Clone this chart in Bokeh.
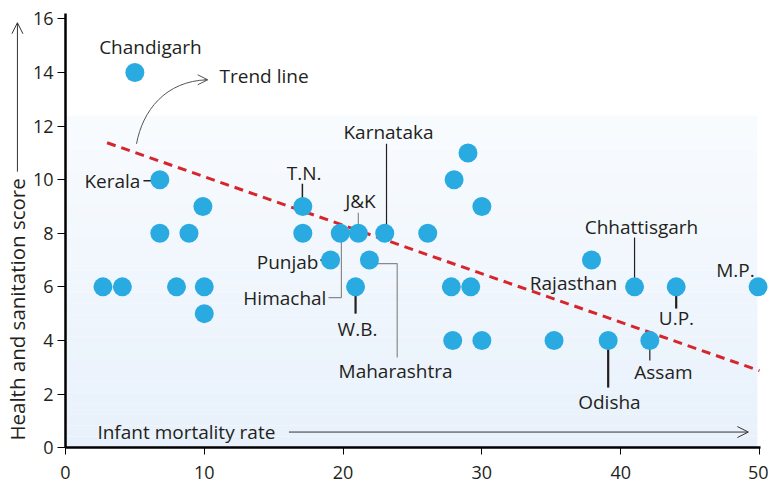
import math
from bokeh.plotting import figure
from bokeh.models import Arrow, OpenHead, FixedTicker, ColumnDataSource
from bokeh.core.properties import value
from bokeh.embed import file_html
from bokeh.resources import INLINE

FONT = "Open Sans"
TXT = "#231f20"
FS = "19px"

# ---- data ----
labelled_names = ["Chandigarh", "Kerala", "T.N.", "Himachal", "J&K", "Karnataka", "Punjab",
                  "Maharashtra", "W.B.", "Rajasthan", "Chhattisgarh", "U.P.", "M.P.", "Odisha", "Assam"]
labelled_imr = [5, 6.8, 17.1, 19.8, 21.1, 23.0, 19.1, 21.9, 20.9, 37.9, 41.0, 44.0, 49.9, 39.1, 42.1]
labelled_score = [14, 10, 9, 8, 8, 8, 7, 7, 6, 7, 6, 6, 6, 4, 4]

other_imr = [2.7, 4.1, 6.8, 8.9, 8.0, 9.9, 10.0, 10.0, 17.1, 26.1, 28.0, 29.0, 30.0, 27.8, 29.2, 27.9, 30.0, 35.2]
other_score = [6, 6, 8, 8, 6, 9, 6, 5, 8, 8, 10, 11, 9, 6, 6, 4, 4, 4]

trend_imr = [3.0, 50.0]
trend_score = [11.38, 2.87]

x_ticks = [0, 10, 20, 30, 40, 50]
y_ticks = [0, 2, 4, 6, 8, 10, 12, 14, 16]

# ---- figure (frame covers the whole canvas; axes are pinned at 0) ----
p = figure(width=768, height=487, x_range=(-4.68, 50.65), y_range=(-1.49, 16.69),
           output_backend="svg", toolbar_location=None,
           min_border_left=0, min_border_right=0, min_border_top=0, min_border_bottom=0)
p.outline_line_color = None
p.grid.visible = False
p.background_fill_color = "white"
p.border_fill_color = "white"

# background gradient panel
n = 30
top = 12.4
bot_c = (232, 241, 251)
top_c = (248, 251, 254)
for i in range(n):
    t = i / (n - 1)
    c = tuple(int(round(bot_c[k] + (top_c[k] - bot_c[k]) * t)) for k in range(3))
    p.quad(left=0, right=49.85, bottom=top * i / n, top=top * (i + 1) / n,
           fill_color="#%02x%02x%02x" % c, line_color=None)

# axes styling
for ax in (p.xaxis[0], p.yaxis[0]):
    ax.fixed_location = 0
    ax.axis_line_color = "black"
    ax.axis_line_width = 2.5
    ax.major_tick_line_color = "black"
    ax.major_tick_line_width = 1
    ax.major_tick_in = 0
    ax.minor_tick_line_color = None
    ax.major_label_text_font = FONT
    ax.major_label_text_font_size = "18px"
    ax.major_label_text_color = TXT
p.xaxis.bounds = (0, 50.1)
p.yaxis.bounds = (0, 16.2)
p.xaxis.ticker = FixedTicker(ticks=x_ticks)
p.yaxis.ticker = FixedTicker(ticks=y_ticks)
p.xaxis.major_tick_out = 7
p.yaxis.major_tick_out = 8
p.xaxis.major_label_standoff = 11
p.yaxis.major_label_standoff = 4

# y axis title (placed low, with arrow above it)
p.text(x=[-3.46], y=[0.26], text=["Health and sanitation score"], angle=math.pi / 2,
       text_align="left", text_baseline="middle", text_font=value(FONT),
       text_font_size="20.5px", text_color=TXT)
p.add_layout(Arrow(end=OpenHead(size=11, line_width=1, line_color="#333333"),
                   x_start=-3.46, y_start=10.3, x_end=-3.46, y_end=15.86,
                   line_color="#333333", line_width=1))

# leader lines (beneath dots)
dark = "#231f20"
grey = "#8a8a8a"
p.segment(x0=[5.62], y0=[9.96], x1=[6.3], y1=[9.96], line_color=dark, line_width=1.5)      # Kerala
p.segment(x0=[17.07], y0=[9.85], x1=[17.07], y1=[9.0], line_color=dark, line_width=1.5)   # T.N.
p.segment(x0=[21.1], y0=[8.77], x1=[21.1], y1=[8.0], line_color=grey, line_width=1.2)     # J&K
p.segment(x0=[23.13], y0=[11.34], x1=[23.13], y1=[8.0], line_color=dark, line_width=1.2) # Karnataka
p.segment(x0=[18.37], y0=[7.0], x1=[19.1], y1=[7.0], line_color=dark, line_width=2.2)     # Punjab
p.line(x=[18.95, 19.88, 19.88], y=[5.6, 5.6, 8.0], line_color=grey, line_width=1.2)       # Himachal
p.line(x=[21.9, 23.9, 23.9], y=[6.87, 6.87, 3.36], line_color=grey, line_width=1.2)       # Maharashtra
p.segment(x0=[20.9], y0=[6.0], x1=[20.9], y1=[5.0], line_color=dark, line_width=2.2)      # W.B.
p.segment(x0=[41.0], y0=[7.84], x1=[41.0], y1=[6.0], line_color=dark, line_width=1.2)     # Chhattisgarh
p.segment(x0=[44.0], y0=[6.0], x1=[44.0], y1=[5.19], line_color=dark, line_width=2.2)     # U.P.
p.segment(x0=[39.1], y0=[4.0], x1=[39.1], y1=[2.24], line_color=dark, line_width=2.2)     # Odisha
p.segment(x0=[42.1], y0=[4.0], x1=[42.1], y1=[3.25], line_color=dark, line_width=1.2)     # Assam

# trend line
p.line(trend_imr, trend_score, line_color="#d7262b", line_width=3, line_dash="9 6")

# dots
dot = "#29abe2"
p.scatter(other_imr, other_score, size=19, fill_color=dot, line_color=None)
p.scatter(labelled_imr, labelled_score, size=19, fill_color=dot, line_color=None)

# labels
lab_x = [6.12, 5.4, 17.2, 18.8, 21.25, 23.27, 18.23, 23.78, 21.04, 36.6, 41.5, 44.02, 48.27, 39.19, 43.08]
lab_y = [14.96, 9.96, 10.26, 5.6, 9.22, 11.79, 6.94, 2.87, 4.44, 6.16, 8.25, 4.85, 6.64, 1.72, 2.84]
lab_align = ["center", "right", "center", "right", "center", "center", "right",
             "center", "center", "center", "center", "center", "center", "center", "center"]
src = ColumnDataSource(dict(x=lab_x, y=lab_y, t=labelled_names, a=lab_align))
p.text(x="x", y="y", text="t", text_align="a", text_baseline="middle", source=src,
       text_font=value(FONT), text_font_size=FS, text_color=TXT)

# Trend line annotation
p.text(x=[11.1], y=[13.88], text=["Trend line"], text_baseline="middle",
       text_font=value(FONT), text_font_size=FS, text_color=TXT)
p.bezier(x0=[5.12], y0=[11.34], x1=[10.23], y1=[13.73], cx0=[5.55], cy0=[12.57],
         cx1=[7.2], cy1=[13.69], line_color="#555555", line_width=1)
p.add_layout(Arrow(end=OpenHead(size=10, line_width=1, line_color="#555555"),
                   x_start=10.0, y_start=13.73, x_end=10.25, y_end=13.73,
                   line_color="#555555", line_width=1))

# Infant mortality rate annotation
p.text(x=[2.3], y=[0.58], text=["Infant mortality rate"], text_baseline="middle",
       text_font=value(FONT), text_font_size=FS, text_color=TXT)
p.add_layout(Arrow(end=OpenHead(size=11, line_width=1, line_color="#333333"),
                   x_start=16.1, y_start=0.58, x_end=49.2, y_end=0.58,
                   line_color="#333333", line_width=1))

open("out.html", "w").write(file_html(p, INLINE))
